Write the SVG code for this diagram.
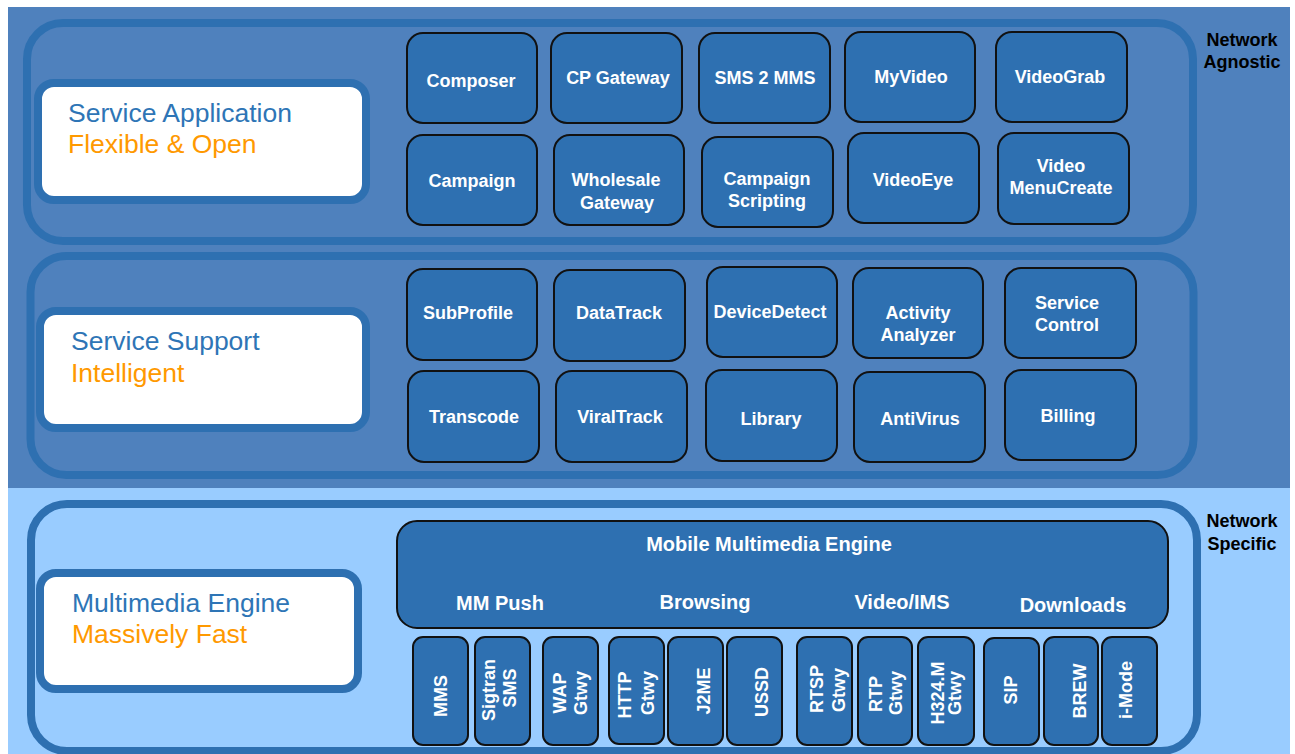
<svg xmlns="http://www.w3.org/2000/svg" width="1295" height="754" viewBox="0 0 1295 754">
<style>
.panel{fill:none;stroke:#2E70B1;stroke-width:8}
.label{fill:#FFFFFF;stroke:#2E70B1;stroke-width:8}
.box{fill:#2E70B1;stroke:#111111;stroke-width:2}
.bt{font-family:"Liberation Sans",Arial,sans-serif;font-weight:bold;font-size:18px;fill:#FFFFFF;text-anchor:middle}
.big{font-size:20px}
.lt{font-family:"Liberation Sans",Arial,sans-serif;font-size:26.5px}
.blue{fill:#2E75B6}
.orange{fill:#FF9900}
.net{font-family:"Liberation Sans",Arial,sans-serif;font-weight:bold;font-size:18px;fill:#000000;text-anchor:middle}
</style>
<rect x="0" y="0" width="1295" height="754" fill="#FFFFFF"/>
<rect x="8" y="7" width="1282" height="481" fill="#4F81BD"/>
<rect x="8" y="488" width="1282" height="266" fill="#99CCFF"/>

<g id="panel-application">
<rect class="panel" x="27" y="23" width="1166" height="218" rx="36"/>
</g>
<g id="panel-support">
<rect class="panel" x="30.5" y="256" width="1163" height="219" rx="36"/>
</g>
<g id="panel-engine">
<rect class="panel" x="31" y="504" width="1166" height="247" rx="36"/>
</g>

<g id="label-application">
<rect class="label" x="38" y="83" width="328" height="117" rx="16"/>
<text class="lt blue" x="68" y="122">Service Application</text>
<text class="lt orange" x="68" y="153">Flexible &amp; Open</text>
</g>
<g id="label-support">
<rect class="label" x="40" y="311" width="326" height="117" rx="16"/>
<text class="lt blue" x="71" y="350">Service Support</text>
<text class="lt orange" x="71" y="382">Intelligent</text>
</g>
<g id="label-engine">
<rect class="label" x="40" y="573" width="318" height="116" rx="16"/>
<text class="lt blue" x="72" y="612">Multimedia Engine</text>
<text class="lt orange" x="72" y="643">Massively Fast</text>
</g>

<g id="net-agnostic"><text class="net" x="1242" y="46">Network</text><text class="net" x="1242" y="68">Agnostic</text></g>
<g id="net-specific"><text class="net" x="1242" y="527">Network</text><text class="net" x="1242" y="550">Specific</text></g>

<!-- Service application boxes -->
<g id="n-composer"><rect class="box" x="407" y="33" width="130" height="90" rx="16"/><text class="bt" x="471" y="87">Composer</text></g>
<g id="n-cpgateway"><rect class="box" x="551" y="33" width="131" height="90" rx="16"/><text class="bt" x="618" y="84">CP Gateway</text></g>
<g id="n-sms2mms"><rect class="box" x="699" y="33" width="131" height="90" rx="16"/><text class="bt" x="765" y="84">SMS 2 MMS</text></g>
<g id="n-myvideo"><rect class="box" x="845" y="32" width="130" height="90" rx="16"/><text class="bt" x="911" y="83">MyVideo</text></g>
<g id="n-videograb"><rect class="box" x="996" y="32" width="131" height="90" rx="16"/><text class="bt" x="1060" y="83">VideoGrab</text></g>

<g id="n-campaign"><rect class="box" x="407" y="135" width="130" height="90" rx="16"/><text class="bt" x="472" y="187">Campaign</text></g>
<g id="n-wholesale"><rect class="box" x="554" y="135" width="130" height="90" rx="16"/><text class="bt" x="616" y="186">Wholesale</text><text class="bt" x="617" y="209">Gateway</text></g>
<g id="n-campscript"><rect class="box" x="702" y="137" width="131" height="90" rx="16"/><text class="bt" x="767" y="185">Campaign</text><text class="bt" x="767" y="207">Scripting</text></g>
<g id="n-videoeye"><rect class="box" x="848" y="133" width="131" height="90" rx="16"/><text class="bt" x="913" y="186">VideoEye</text></g>
<g id="n-videomenu"><rect class="box" x="998" y="133" width="131" height="91" rx="16"/><text class="bt" x="1061" y="172">Video</text><text class="bt" x="1061" y="194">MenuCreate</text></g>

<!-- Service support boxes -->
<g id="n-subprofile"><rect class="box" x="407" y="269" width="130" height="91" rx="16"/><text class="bt" x="468" y="319">SubProfile</text></g>
<g id="n-datatrack"><rect class="box" x="554" y="270" width="131" height="91" rx="16"/><text class="bt" x="619" y="319">DataTrack</text></g>
<g id="n-devicedetect"><rect class="box" x="707" y="267" width="130" height="90" rx="16"/><text class="bt" x="770" y="318">DeviceDetect</text></g>
<g id="n-activity"><rect class="box" x="853" y="268" width="130" height="90" rx="16"/><text class="bt" x="918" y="319">Activity</text><text class="bt" x="918" y="341">Analyzer</text></g>
<g id="n-servicecontrol"><rect class="box" x="1005" y="268" width="131" height="90" rx="16"/><text class="bt" x="1067" y="309">Service</text><text class="bt" x="1067" y="331">Control</text></g>

<g id="n-transcode"><rect class="box" x="408" y="371" width="131" height="91" rx="16"/><text class="bt" x="474" y="423">Transcode</text></g>
<g id="n-viraltrack"><rect class="box" x="556" y="371" width="131" height="91" rx="16"/><text class="bt" x="620" y="423">ViralTrack</text></g>
<g id="n-library"><rect class="box" x="706" y="370" width="131" height="91" rx="16"/><text class="bt" x="771" y="425">Library</text></g>
<g id="n-antivirus"><rect class="box" x="854" y="372" width="131" height="90" rx="16"/><text class="bt" x="920" y="425">AntiVirus</text></g>
<g id="n-billing"><rect class="box" x="1005" y="370" width="131" height="90" rx="16"/><text class="bt" x="1068" y="422">Billing</text></g>

<!-- Mobile multimedia engine -->
<g id="n-mme"><rect class="box" x="397" y="521" width="771" height="107" rx="20"/>
<text class="bt big" x="769" y="551">Mobile Multimedia Engine</text>
<text class="bt big" x="500" y="610">MM Push</text>
<text class="bt big" x="705" y="609">Browsing</text>
<text class="bt big" x="902" y="609">Video/IMS</text>
<text class="bt big" x="1073" y="612">Downloads</text>
</g>

<g id="n-mms"><rect class="box" x="413" y="637" width="55" height="108" rx="10"/><text class="bt" transform="translate(447,696) rotate(-90)">MMS</text></g>
<g id="n-sigtran"><rect class="box" x="475" y="637" width="55" height="108" rx="10"/><text class="bt" transform="translate(495,690) rotate(-90)">Sigtran</text><text class="bt" transform="translate(516,688) rotate(-90)">SMS</text></g>
<g id="n-wap"><rect class="box" x="543" y="637" width="55" height="108" rx="10"/><text class="bt" transform="translate(566,693) rotate(-90)">WAP</text><text class="bt" transform="translate(587,693) rotate(-90)">Gtwy</text></g>
<g id="n-http"><rect class="box" x="609" y="637" width="55" height="107" rx="10"/><text class="bt" transform="translate(631,695) rotate(-90)">HTTP</text><text class="bt" transform="translate(654,693) rotate(-90)">Gtwy</text></g>
<g id="n-j2me"><rect class="box" x="668" y="637" width="55" height="108" rx="10"/><text class="bt" transform="translate(710,691) rotate(-90)">J2ME</text></g>
<g id="n-ussd"><rect class="box" x="727" y="637" width="55" height="108" rx="10"/><text class="bt" transform="translate(768,692) rotate(-90)">USSD</text></g>
<g id="n-rtsp"><rect class="box" x="797" y="637" width="55" height="108" rx="10"/><text class="bt" transform="translate(823,689) rotate(-90)">RTSP</text><text class="bt" transform="translate(845,690) rotate(-90)">Gtwy</text></g>
<g id="n-rtp"><rect class="box" x="858" y="637" width="54" height="108" rx="10"/><text class="bt" transform="translate(882,694) rotate(-90)">RTP</text><text class="bt" transform="translate(902,693) rotate(-90)">Gtwy</text></g>
<g id="n-h324"><rect class="box" x="918" y="637" width="56" height="108" rx="10"/><text class="bt" transform="translate(944,693) rotate(-90)">H324.M</text><text class="bt" transform="translate(961,693) rotate(-90)">Gtwy</text></g>
<g id="n-sip"><rect class="box" x="984" y="638" width="55" height="107" rx="10"/><text class="bt" transform="translate(1017,690) rotate(-90)">SIP</text></g>
<g id="n-brew"><rect class="box" x="1044" y="637" width="54" height="108" rx="10"/><text class="bt" transform="translate(1086,691) rotate(-90)">BREW</text></g>
<g id="n-imode"><rect class="box" x="1102" y="637" width="55" height="108" rx="10"/><text class="bt" transform="translate(1132,690) rotate(-90)">i-Mode</text></g>

<g id="connectors"></g>
</svg>
